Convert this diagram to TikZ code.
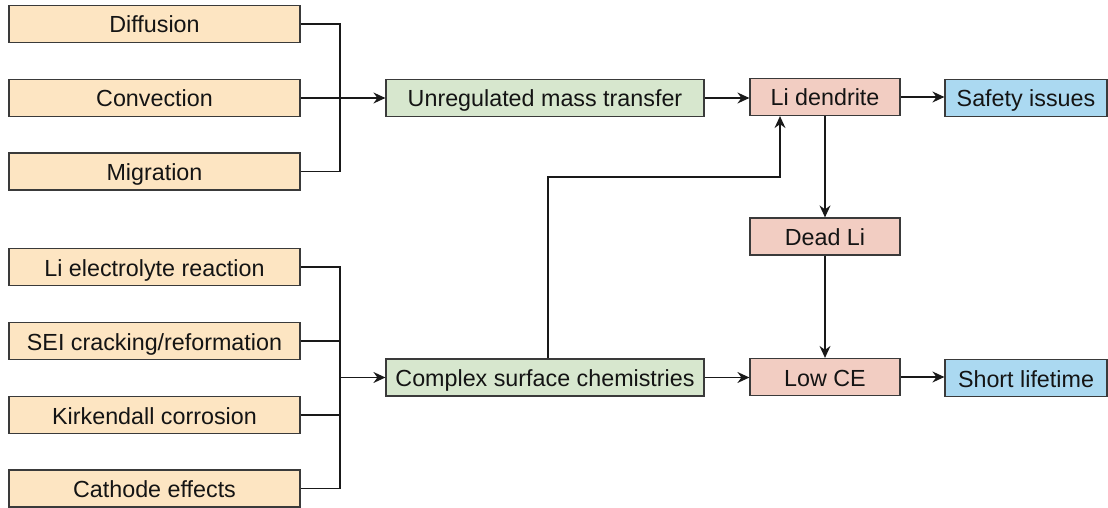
\documentclass[tikz,border=0pt]{standalone}
\usepackage{fontspec}
\setmainfont{Liberation Sans}
\usetikzlibrary{arrows.meta}
\definecolor{orfill}{HTML}{FDE5C2}
\definecolor{grfill}{HTML}{D7E7CE}
\definecolor{pkfill}{HTML}{F2CDC2}
\definecolor{blfill}{HTML}{ABD9F1}
\definecolor{edge}{HTML}{3A3A3A}
\begin{document}
\begin{tikzpicture}[x=1pt,y=-1pt,
  box/.style={draw=edge, line width=1.2pt, minimum height=37pt, inner sep=0pt, anchor=center,
    text height=22pt, text depth=4pt,
    font=\fontsize{23.3}{28}\selectfont, text=black!92},
  srcbox/.style={box, fill=orfill, minimum width=291pt},
  midbox/.style={box, fill=grfill, minimum width=318pt},
  resbox/.style={box, fill=pkfill, minimum width=150pt},
  endbox/.style={box, fill=blfill, minimum width=162pt},
  conn/.style={line width=1.3pt, draw=black!90},
  arr/.style={conn, -{Stealth[length=12pt,width=11pt,inset=4pt]}}
]
\useasboundingbox (0,0) rectangle (1108,508);

% left sources (top group)
\node[srcbox] (d) at (154.5,24) {Diffusion};
\node[srcbox] (c) at (154.5,98) {Convection};
\node[srcbox] (m) at (154.5,171.5) {Migration};
% left sources (bottom group)
\node[srcbox] (le) at (154.5,267) {Li electrolyte reaction};
\node[srcbox] (sei) at (154.5,341) {SEI cracking/reformation};
\node[srcbox] (ki) at (154.5,415) {Kirkendall corrosion};
\node[srcbox] (ca) at (154.5,488.5) {Cathode effects};

% middle
\node[midbox] (u) at (545,98) {Unregulated mass transfer};
\node[midbox] (cs) at (545,377.5) {Complex surface chemistries};

% results
\node[resbox] (ld) at (825,97) {Li dendrite};
\node[resbox] (dl) at (825,236.5) {Dead Li};
\node[resbox] (lc) at (825,377) {Low CE};

% ends
\node[endbox] (si) at (1026,98) {Safety issues};
\node[endbox] (sl) at (1026,378) {Short lifetime};

% junctions
\coordinate (jt) at (340,98);
\coordinate (jb) at (340,377.5);
\coordinate (k1) at (548,177);
\coordinate (k2) at (780,177);

% top group bus
\draw[conn] (d.east) -| (jt) |- (m.east);
\draw[arr] (c.east) -- (u.west);

% bottom group bus
\draw[conn] (le.east) -| (jb) |- (ca.east);
\draw[conn] (sei.east) -- (sei.east -| jb);
\draw[conn] (ki.east) -- (ki.east -| jb);
\draw[arr] (jb) -- (cs.west);

% flow
\draw[arr] (u.east) -- (u.east -| ld.west);
\draw[arr] (ld.east) -- (ld.east -| si.west);
\draw[arr] (ld.south) -- (dl.north);
\draw[arr] (dl.south) -- (lc.north);
\draw[arr] (cs.east) -- (cs.east -| lc.west);
\draw[arr] (lc.east) -- (lc.east -| sl.west);
\draw[arr] (k1 |- cs.north) -- (k1) -- (k2) -- (k2 |- ld.south);
\end{tikzpicture}
\end{document}
